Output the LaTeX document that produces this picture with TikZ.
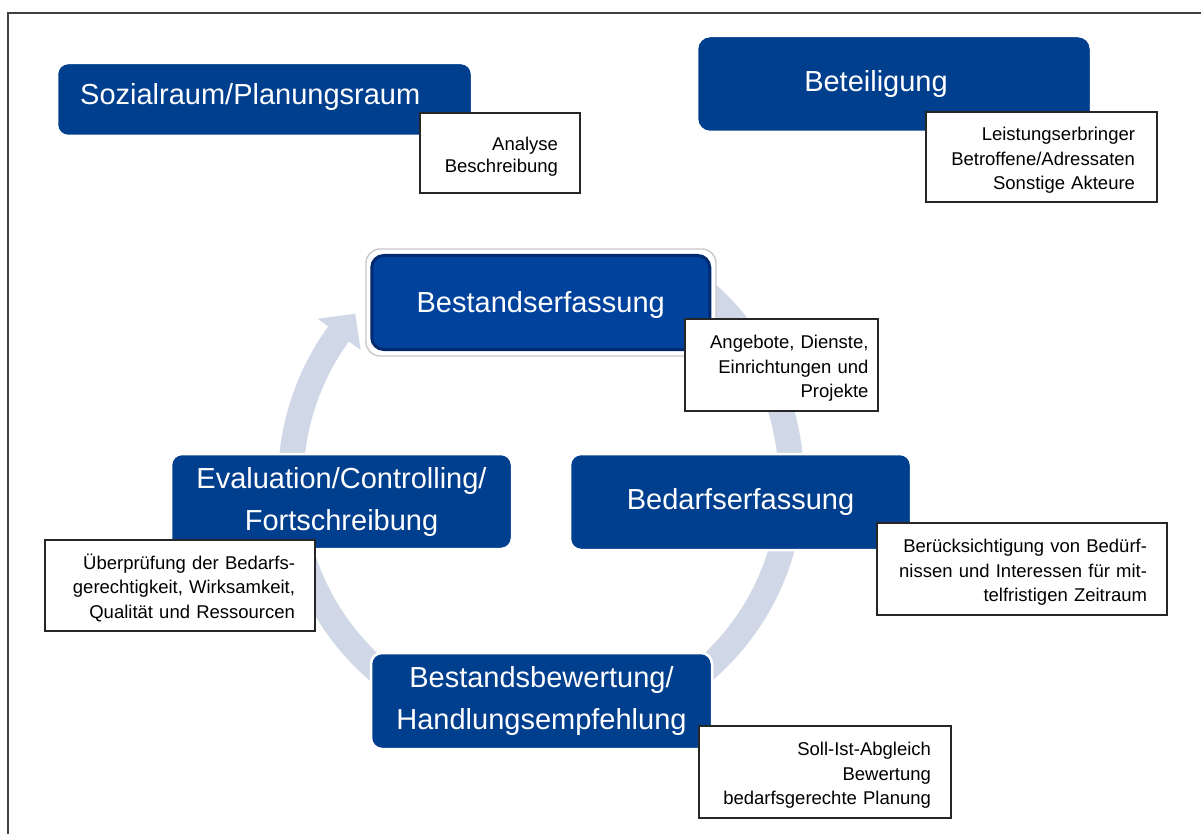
\documentclass[tikz,border=0pt]{standalone}
\usepackage{fontspec}
\setmainfont{Liberation Sans}
\definecolor{boxblue}{RGB}{0,62,142}
\definecolor{boxblueB}{RGB}{0,66,156}
\definecolor{boxblueD}{RGB}{0,42,112}
\definecolor{ringcol}{RGB}{208,216,232}
\definecolor{rimgray}{RGB}{200,200,205}
\newcommand{\topstrut}{\rule{0pt}{20pt}}
\begin{document}
\begin{tikzpicture}[x=1pt,y=-1pt,
  bluebox/.style={rectangle, rounded corners=11pt, fill=boxblue, draw=white, line width=2.5pt,
    text=white, font=\fontsize{29}{42}\selectfont, align=center, inner sep=0pt},
  bigtext/.style={text=white, font=\fontsize{29}{42}\selectfont, inner sep=0pt, align=center},
  notebox/.style={rectangle, fill=white, draw=black!85, line width=1.1pt,
    font=\fontsize{18.5}{24.5}\selectfont, align=right, inner ysep=0pt},
  framestyle/.style={draw=black!75, line width=1.3pt}
]
\useasboundingbox (0,0) rectangle (1201,834);
\fill[white] (0,0) rectangle (1201,834);

% outer frame
\coordinate (fbl) at (8,834);
\coordinate (ftl) at (8,13);
\coordinate (ftr) at (1201,13);
\draw[framestyle] (fbl) -- (ftl) -- (ftr);

% circular arrow
\begin{scope}[shift={(541,481)}]
\fill[ringcol] plot[domain=-55:216, samples=150] (\x:263) -- (216:276) -- (222:250) -- (216:223)
  -- plot[domain=216:-55, samples=150] (\x:237.5) -- cycle;
\end{scope}

% top boxes
\node[bluebox, minimum width=415pt, minimum height=73pt] (sozial) at (264.5,99.5) {};
\node[bigtext, anchor=west] (sozialT) at (80,97.5) {Sozialraum/Planungsraum};
\node[bluebox, rounded corners=13pt, minimum width=394pt, minimum height=96pt] (beteil) at (894,84) {};
\node[bigtext] (beteilT) at (876,84) {Beteiligung};

% cycle boxes
\node[rectangle, rounded corners=14pt, fill=white, draw=rimgray, line width=1.4pt,
  minimum width=350pt, minimum height=107pt] (bestRim) at (541,302.5) {};
\node[bluebox, fill=boxblueB, draw=boxblueD, line width=3pt, rounded corners=12pt,
  minimum width=338pt, minimum height=94pt] (bestand) at (540.75,302.5) {\rule{0pt}{27pt}Bestandserfassung};
\node[bluebox, minimum width=341pt, minimum height=96pt] (bedarf) at (740.5,502) {Bedarfserfassung};
\node[bluebox, minimum width=341pt, minimum height=95pt] (eval) at (341.5,501.5) {Evaluation/Controlling/\\Fortschreibung};
\node[bluebox, minimum width=341pt, minimum height=96pt] (bewert) at (541.5,701) {Bestandsbewertung/\\Handlungsempfehlung};

% note boxes
\node[notebox, minimum height=80pt, inner xsep=22pt, text width=116pt] (analyse) at (500,153)
  {\topstrut Analyse\\[-2.5pt]Beschreibung};
\node[notebox, minimum height=90pt, inner xsep=22pt, text width=187pt] (leist) at (1041.5,157)
  {\topstrut Leistungserbringer\\Betroffene/Adressaten\\Sonstige Akteure};
\node[notebox, minimum height=92pt, inner xsep=9.5pt, text width=174pt] (angebot) at (781.5,365)
  {\topstrut Angebote, Dienste,\\Einrichtungen und\\Projekte};
\node[notebox, minimum height=92pt, inner xsep=20pt, text width=250pt] (beruecks) at (1022,569)
  {\topstrut Berücksichtigung von Bedürf-\\nissen und Interessen für mit-\\telfristigen Zeitraum};
\node[notebox, minimum height=91pt, inner xsep=20pt, text width=230pt] (ueberpr) at (180,585.5)
  {\topstrut Überprüfung der Bedarfs-\\gerechtigkeit, Wirksamkeit,\\Qualität und Ressourcen};
\node[notebox, minimum height=92pt, inner xsep=20pt, text width=212pt] (sollist) at (825,772)
  {\topstrut Soll-Ist-Abgleich\\Bewertung\\bedarfsgerechte Planung};
\end{tikzpicture}
\end{document}
